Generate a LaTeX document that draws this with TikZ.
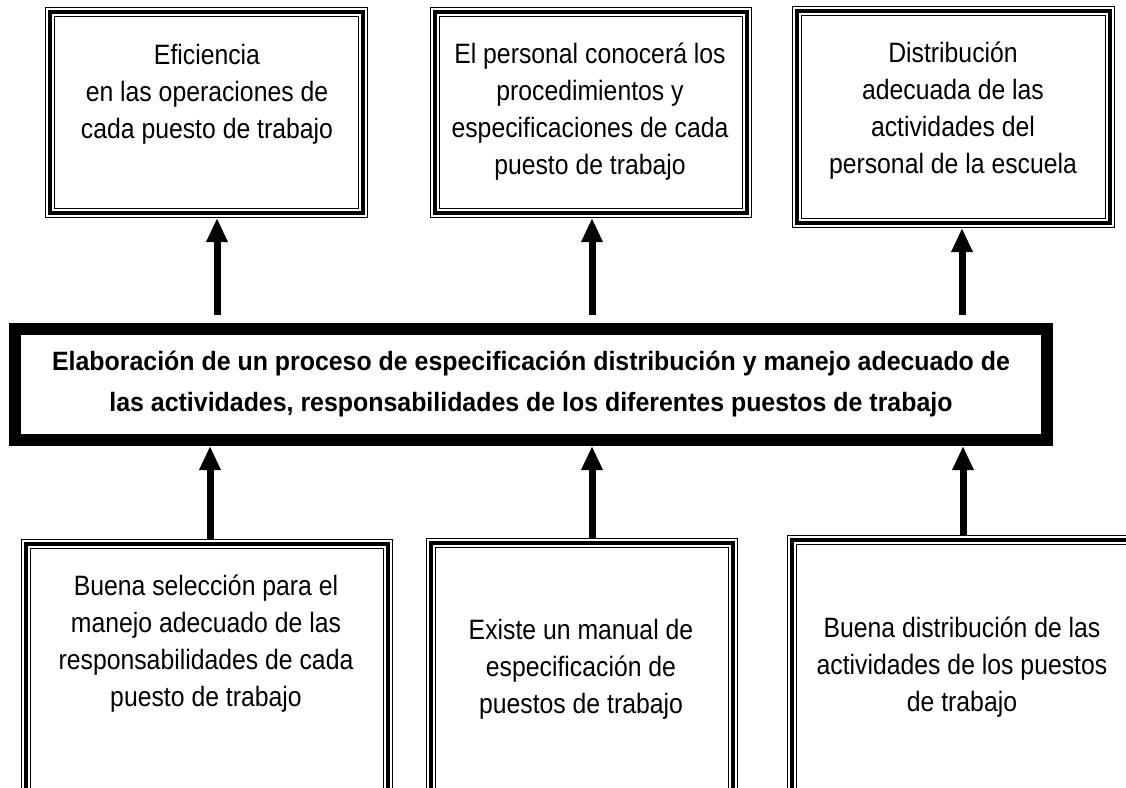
\documentclass[tikz,border=0pt]{standalone}
\usepackage{fontspec}
\setmainfont{Liberation Sans}[FakeStretch=0.885, BoldFeatures={FakeStretch=0.94}]
\usetikzlibrary{arrows.meta}
\begin{document}
\begin{tikzpicture}[x=0.5pt,y=-0.5pt,
  tribox/.style={draw, line width=2pt, outer sep=2.5pt, inner sep=0pt,
    preaction={draw, line width=0.65pt, double=white, double distance=3.7pt}},
  mainbox/.style={draw, line width=6pt, outer sep=3pt, inner sep=0pt, align=center,
    font=\bfseries\fontsize{13.25}{20.5}\selectfont},
  boxtext/.style={anchor=north, align=center, inner sep=0pt,
    font=\fontsize{14}{18.5}\selectfont},
  arr/.style={line width=3.5pt, -{Triangle[length=12pt,width=10pt]}}]
\useasboundingbox (0,0) rectangle (1126,788);
\clip (0,0) rectangle (1126,788);

% top boxes
\node[tribox, minimum width=156.5pt, minimum height=100.5pt] (tl) at (206.5,112.5) {};
\node[tribox, minimum width=156pt, minimum height=100.5pt] (tm) at (591,112.5) {};
\node[tribox, minimum width=156.5pt, minimum height=106pt] (tr) at (953.5,117) {};

% central box
\node[mainbox, minimum width=516pt, minimum height=55.5pt] (c) at (531,384.5)
  {Elaboración de un proceso de especificación distribución y manejo adecuado de\\
   las actividades, responsabilidades de los diferentes puestos de trabajo};

% bottom boxes
\node[tribox, minimum width=181pt, minimum height=125.5pt] (bl) at (207,669.5) {};
\node[tribox, minimum width=151pt, minimum height=126pt] (bm) at (582,669) {};
\node[tribox, minimum width=171.5pt, minimum height=127.5pt] (br) at (963.5,667.5) {};

% texts
\node[boxtext] (tlt) at (207,44) {Eficiencia\\en las operaciones de\\cada puesto de trabajo};
\node[boxtext] (tmt) at (590,42) {El personal conocerá los\\procedimientos y\\especificaciones de cada\\puesto de trabajo};
\node[boxtext] (trt) at (953,41) {Distribución\\adecuada de las\\actividades del\\personal de la escuela};
\node[boxtext] (blt) at (206,574) {Buena selección para el\\manejo adecuado de las\\responsabilidades de cada\\puesto de trabajo};
\node[boxtext] (bmt) at (581,619) {Existe un manual de\\especificación de\\puestos de trabajo};
\node[boxtext] (brt) at (962,616) {Buena distribución de las\\actividades de los puestos\\de trabajo};

% arrow columns
\coordinate (x1) at (217,0);
\coordinate (x2) at (592,0);
\coordinate (x3) at (962,0);
\coordinate (x4) at (210,0);
\coordinate (x5) at (592,0);
\coordinate (x6) at (963,0);

\draw[arr, shorten <=4pt] (c.north -| x1) -- (tl.south -| x1);
\draw[arr, shorten <=4pt] (c.north -| x2) -- (tm.south -| x2);
\draw[arr, shorten <=4pt] (c.north -| x3) -- (tr.south -| x3);
\draw[arr] (bl.north -| x4) -- (c.south -| x4);
\draw[arr] (bm.north -| x5) -- (c.south -| x5);
\draw[arr] (br.north -| x6) -- (c.south -| x6);
\end{tikzpicture}
\end{document}
